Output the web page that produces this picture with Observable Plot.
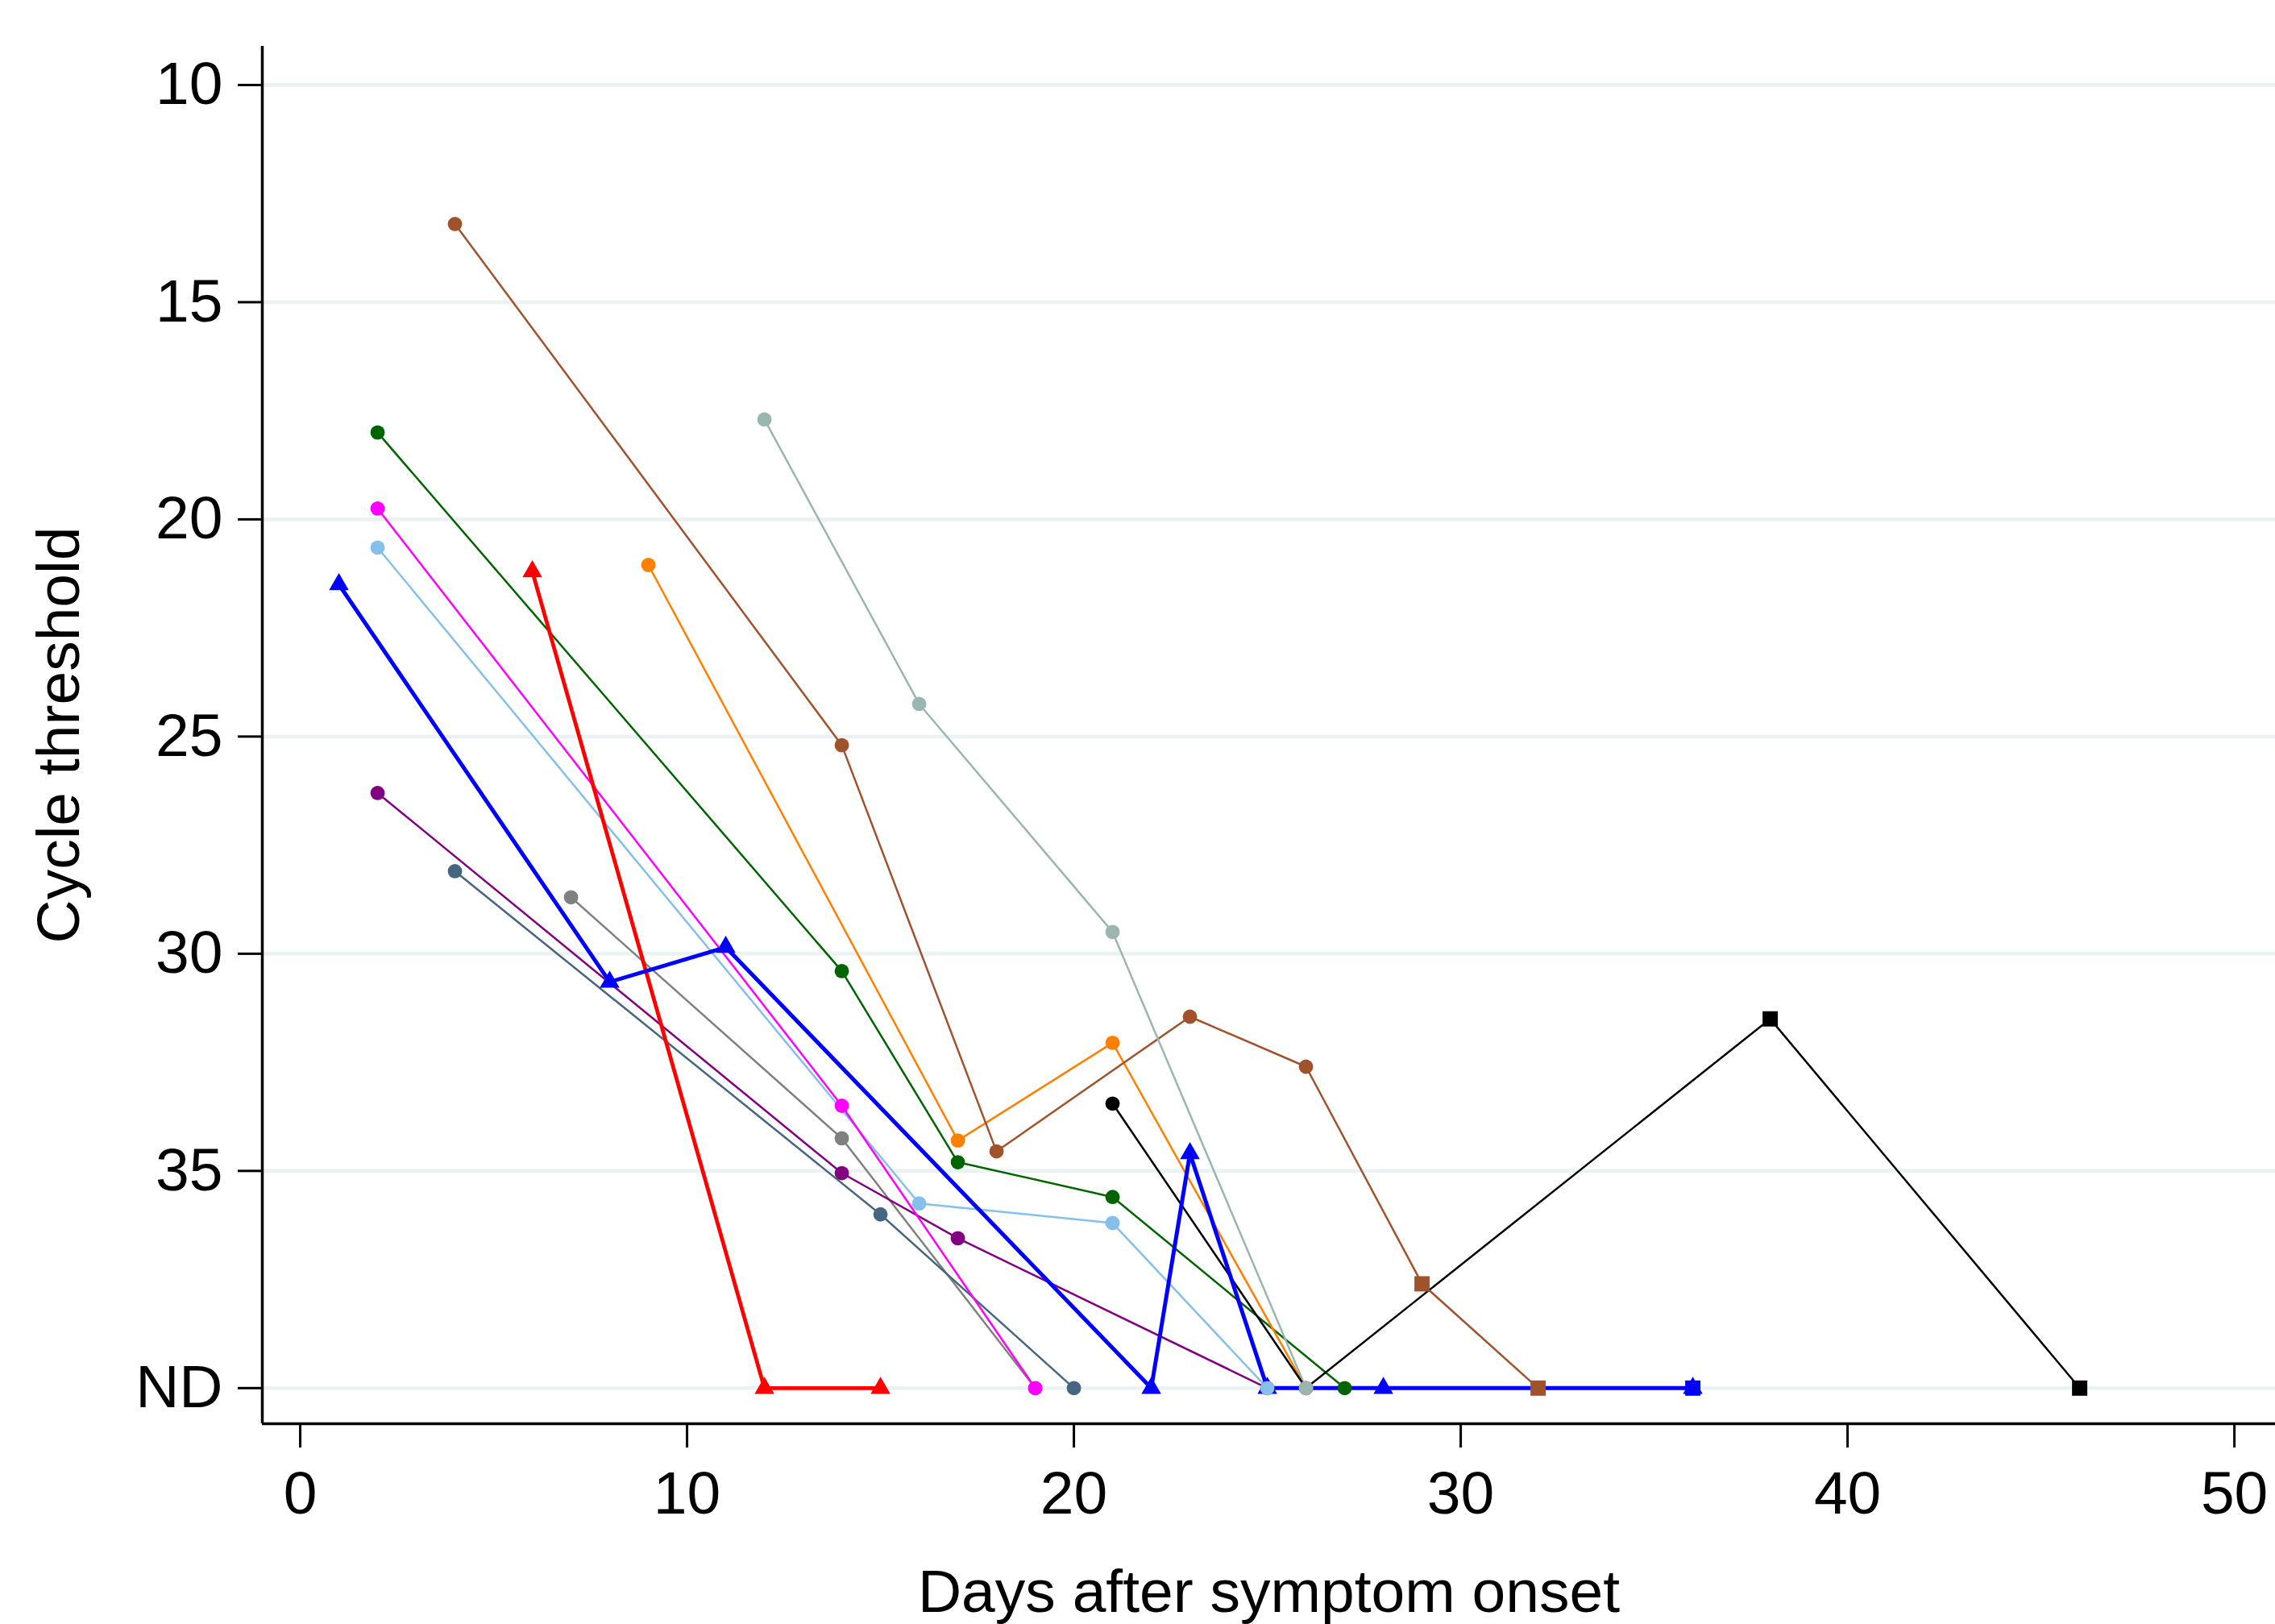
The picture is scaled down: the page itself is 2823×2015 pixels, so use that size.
<!DOCTYPE html>
<html>
<head>
<meta charset="utf-8">
<script src="https://cdn.jsdelivr.net/npm/d3@7"></script>
<script src="https://cdn.jsdelivr.net/npm/@observablehq/plot@0.6"></script>
<style>
  html, body { margin: 0; padding: 0; background: #fff; }
  #chart svg { display: block; }
</style>
</head>
<body>
<div id="chart"></div>
<script>
// "ND" (not detected) is plotted at position 40, below the 35 tick
const ND = 40;
const yTicks = [10, 15, 20, 25, 30, 35, 40];
const yTickLabels = ["10", "15", "20", "25", "30", "35", "ND"];
const xTicks = [0, 10, 20, 30, 40, 50];
const xTitle = "Days after symptom onset";
const yTitle = "Cycle threshold";

// one pair of arrays per patient series (days after onset, cycle threshold, marker)
const siennaDays = [4, 14, 18, 23, 26, 29, 32];
const siennaCt = [13.2, 25.2, 34.55, 31.45, 32.6, 37.6, ND];
const siennaMarker = ["circle", "circle", "circle", "circle", "circle", "square", "square"];

const grayGreenDays = [12, 16, 21, 26];
const grayGreenCt = [17.7, 24.25, 29.5, ND];
const grayGreenMarker = ["circle", "circle", "circle", "circle"];

const darkGreenDays = [2, 14, 17, 21, 27];
const darkGreenCt = [18.0, 30.4, 34.8, 35.6, ND];
const darkGreenMarker = ["circle", "circle", "circle", "circle", "circle"];

const magentaDays = [2, 14, 19];
const magentaCt = [19.75, 33.5, ND];
const magentaMarker = ["circle", "circle", "circle"];

const lightBlueDays = [2, 16, 21, 25];
const lightBlueCt = [20.65, 35.75, 36.2, ND];
const lightBlueMarker = ["circle", "circle", "circle", "circle"];

const blueDays = [1, 8, 11, 22, 23, 25, 28, 36, 36];
const blueCt = [21.5, 30.65, 29.85, ND, 34.6, ND, ND, ND, ND];
const blueMarker = ["triangle", "triangle", "triangle", "triangle", "triangle", "triangle", "triangle", "triangle", "square"];

const redDays = [6, 12, 15];
const redCt = [21.2, ND, ND];
const redMarker = ["triangle", "triangle", "triangle"];

const orangeDays = [9, 17, 21, 26];
const orangeCt = [21.05, 34.3, 32.05, ND];
const orangeMarker = ["circle", "circle", "circle", "circle"];

const purpleDays = [2, 14, 17, 25];
const purpleCt = [26.3, 35.05, 36.55, ND];
const purpleMarker = ["circle", "circle", "circle", "circle"];

const slateDays = [4, 15, 20];
const slateCt = [28.1, 36.0, ND];
const slateMarker = ["circle", "circle", "circle"];

const grayDays = [7, 14, 19];
const grayCt = [28.7, 34.25, ND];
const grayMarker = ["circle", "circle", "circle"];

const blackDays = [21, 26, 38, 46];
const blackCt = [33.45, ND, 31.5, ND];
const blackMarker = ["circle", "circle", "square", "square"];

// styles (kept apart from the data)
const seriesStyle = {
  gray:      { color: "#808080", width: 2.5 },
  slate:     { color: "#466580", width: 2.5 },
  purple:    { color: "#800080", width: 2.5 },
  lightBlue: { color: "#85bfea", width: 2.5 },
  magenta:   { color: "#ff00ff", width: 2.5 },
  darkGreen: { color: "#006400", width: 2.5 },
  orange:    { color: "#ff8000", width: 2.5 },
  sienna:    { color: "#a0522d", width: 2.5 },
  grayGreen: { color: "#9bb5b0", width: 2.5 },
  black:     { color: "#000000", width: 2.5 },
  red:       { color: "#ff0000", width: 4.8 },
  blue:      { color: "#0000ff", width: 5 }
};

const seriesData = {
  gray: [grayDays, grayCt, grayMarker],
  slate: [slateDays, slateCt, slateMarker],
  purple: [purpleDays, purpleCt, purpleMarker],
  lightBlue: [lightBlueDays, lightBlueCt, lightBlueMarker],
  magenta: [magentaDays, magentaCt, magentaMarker],
  darkGreen: [darkGreenDays, darkGreenCt, darkGreenMarker],
  orange: [orangeDays, orangeCt, orangeMarker],
  sienna: [siennaDays, siennaCt, siennaMarker],
  grayGreen: [grayGreenDays, grayGreenCt, grayGreenMarker],
  black: [blackDays, blackCt, blackMarker],
  red: [redDays, redCt, redMarker],
  blue: [blueDays, blueCt, blueMarker]
};

function rows(name) {
  const [days, ct, marker] = seriesData[name];
  return days.map((d, i) => ({ series: name, day: d, ct: ct[i], marker: marker[i] }));
}

const lineOrder = ["gray", "slate", "purple", "lightBlue", "magenta", "darkGreen", "orange", "sienna", "grayGreen", "black", "red", "blue"];
const dotOrder = ["blue", "red", "black", "gray", "slate", "purple", "orange", "lightBlue", "magenta", "darkGreen", "sienna", "grayGreen"];
const markerRadius = { circle: 8.9, triangle: 9.1, square: 10.7 };

const xDomain = [-0.98, 51.06];
const yDomain = [40.82, 9.11];

const lineMarks = lineOrder.map(name => Plot.line(rows(name), {
  x: "day", y: "ct",
  stroke: seriesStyle[name].color,
  strokeWidth: seriesStyle[name].width,
  strokeLinejoin: "miter", strokeLinecap: "butt"
}));

const dotMarks = [];
for (const name of dotOrder) {
  for (const sym of ["triangle", "circle", "square"]) {
    const data = rows(name).filter(r => r.marker === sym);
    if (!data.length) continue;
    dotMarks.push(Plot.dot(data, {
      x: "day", y: "ct",
      symbol: sym,
      r: markerRadius[sym],
      fill: seriesStyle[name].color,
      stroke: "none"
    }));
  }
}

const fontFamily = "'Liberation Sans', Arial, Helvetica, sans-serif";

const chart = Plot.plot({
  width: 2823,
  height: 2015,
  marginLeft: 325,
  marginRight: 0,
  marginTop: 57,
  marginBottom: 249,
  style: { fontFamily, fontSize: "75px", background: "#ffffff", color: "#000000", overflow: "visible" },
  x: { domain: xDomain },
  y: { domain: yDomain },
  marks: [
    Plot.gridY(yTicks, { stroke: "#eaf2f3", strokeOpacity: 1, strokeWidth: 4.5 }),
    Plot.ruleX([xDomain[0]], { stroke: "#000", strokeWidth: 3.5 }),
    Plot.ruleY([yDomain[0]], { stroke: "#000", strokeWidth: 3.5 }),
    Plot.axisY(yTicks, {
      tickSize: 30, tickPadding: 19, strokeWidth: 3, fontSize: 75,
      tickFormat: d => yTickLabels[yTicks.indexOf(d)], label: null
    }),
    Plot.axisX(xTicks, {
      tickSize: 30, tickPadding: 28, strokeWidth: 3, fontSize: 75,
      tickFormat: d => String(d), label: null
    }),
    ...lineMarks,
    ...dotMarks,
    Plot.text([xTitle], {
      text: d => d, frameAnchor: "bottom", dy: 233, lineAnchor: "bottom",
      textAnchor: "middle", fontSize: 75, fill: "#000"
    }),
    Plot.text([yTitle], {
      text: d => d, frameAnchor: "left", dx: -228, rotate: -90, lineAnchor: "bottom",
      textAnchor: "middle", fontSize: 75, fill: "#000"
    })
  ]
});

document.getElementById("chart").appendChild(chart);
</script>
</body>
</html>
